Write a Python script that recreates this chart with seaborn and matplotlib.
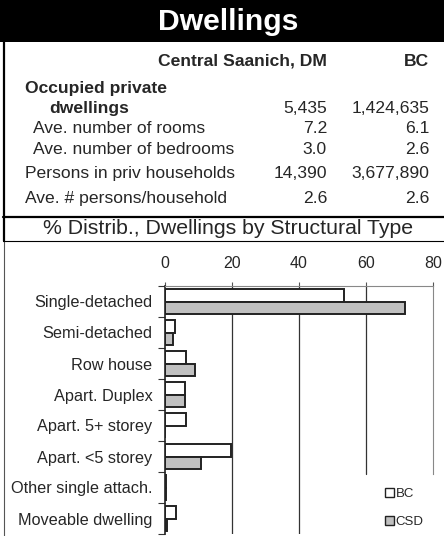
import matplotlib
matplotlib.use("Agg")
import matplotlib.pyplot as plt
from matplotlib.lines import Line2D
from matplotlib.patches import Rectangle
import seaborn as sns
import pandas as pd

# ---- data ----
categories = ["Single-detached", "Semi-detached", "Row house", "Apart. Duplex",
              "Apart. 5+ storey", "Apart. <5 storey", "Other single attach.",
              "Moveable dwelling"]
bc_values = [53.3, 2.9, 6.2, 6.0, 6.3, 19.8, 0.3, 3.2]
csd_values = [71.5, 2.4, 9.0, 6.0, 0.0, 10.7, 0.2, 0.5]
series_names = ["BC", "CSD"]
x_ticks = [0, 20, 40, 60, 80]

table_header = ["Central Saanich, DM", "BC"]
table_rows = [
    ("dwellings", "5,435", "1,424,635"),
    ("Ave. number of rooms", "7.2", "6.1"),
    ("Ave. number of bedrooms", "3.0", "2.6"),
    ("Persons in priv households", "14,390", "3,677,890"),
    ("Ave. # persons/household", "2.6", "2.6"),
]

df = pd.DataFrame({
    "type": categories * 2,
    "value": bc_values + csd_values,
    "series": [series_names[0]] * len(categories) + [series_names[1]] * len(categories),
})

sns.set_theme(style="white")
plt.rcParams["font.family"] = ["Liberation Sans", "DejaVu Sans"]

W, H = 444, 536
fig = plt.figure(figsize=(W / 100, H / 100), dpi=100)

def fx(x):
    return x / W

def fy(y):
    return 1 - y / H

# title band
fig.add_artist(Rectangle((0, fy(42)), 1, 42 / H, transform=fig.transFigure,
                         facecolor="black", edgecolor="none"))
fig.text(fx(228), fy(22), "Dwellings", color="white", fontsize=21.7,
         fontweight="bold", ha="center", va="center")

# borders
fig.add_artist(Line2D([fx(4), fx(4)], [fy(42), fy(241)], color="black", lw=1.6,
                      transform=fig.transFigure))
fig.add_artist(Line2D([fx(3.5), fx(3.5)], [fy(241), fy(536)], color="#555555", lw=0.8,
                      transform=fig.transFigure))
fig.add_artist(Line2D([fx(3), 1], [fy(216.5), fy(216.5)], color="black", lw=1.6,
                      transform=fig.transFigure))
fig.add_artist(Line2D([fx(3), 1], [fy(241), fy(241)], color="black", lw=0.8,
                      transform=fig.transFigure))

# table
fs = 12.6
fig.text(fx(327), fy(66), table_header[0], fontsize=fs, fontweight="bold",
         ha="right", va="baseline")
fig.text(fx(429), fy(66), table_header[1], fontsize=fs, fontweight="bold",
         ha="right", va="baseline")
fig.text(fx(25), fy(93), "Occupied private", fontsize=fs, fontweight="bold",
         ha="left", va="baseline")
row_x = [49, 33, 33, 25, 25]
row_y = [113, 133, 154, 178, 203]
for (label, v1, v2), lx, ly in zip(table_rows, row_x, row_y):
    fig.text(fx(lx), fy(ly), label, fontsize=fs,
             fontweight="bold" if label == "dwellings" else "normal",
             ha="left", va="baseline")
    fig.text(fx(327), fy(ly), v1, fontsize=fs, ha="right", va="baseline")
    fig.text(fx(429), fy(ly), v2, fontsize=fs, ha="right", va="baseline")

fig.text(fx(228), fy(234), "% Distrib., Dwellings by Structural Type",
         fontsize=15.3, ha="center", va="baseline")

# chart
ax_top, ax_bot = 286, 534
ax = fig.add_axes([fx(165), fy(ax_bot), (433 - 165) / W, (ax_bot - ax_top) / H])
sns.barplot(data=df, y="type", x="value", hue="series", orient="h",
            palette={"BC": "white", "CSD": "#c0c0c0"}, width=0.8,
            edgecolor="#222222", linewidth=1.4, saturation=1, ax=ax,
            legend=True)
n = len(categories)
ax.set_xlim(0, 80)
ax.set_ylim(n - 0.5, -0.5)
ax.set_xticks(x_ticks)
ax.xaxis.tick_top()
ax.tick_params(axis="x", which="major", top=True, bottom=False, length=3,
               width=0.8, color="#555555", labelsize=11.5, pad=7.5)
ax.set_xlabel("")
ax.set_ylabel("")
ax.set_yticks(range(n))
ax.set_yticklabels(categories, fontsize=11.7)
ax.tick_params(axis="y", which="major", length=0, pad=9)
ax.set_yticks([i - 0.5 for i in range(n + 1)], minor=True)
ax.tick_params(axis="y", which="minor", left=True, length=5, width=0.8,
               color="#333333")
ax.grid(False)

# legend area (white, without frame) cuts the right-hand gridlines
cut_px = 474
cut_frac = (ax_bot - cut_px) / (ax_bot - ax_top)
cut_data = -0.5 + (cut_px - ax_top) / (ax_bot - ax_top) * n
ax.axvline(20, color="#333333", lw=0.9, zorder=0)
ax.axvline(40, color="#333333", lw=0.9, zorder=0)
ax.axvline(60, ymin=cut_frac, color="#333333", lw=0.9, zorder=0)
ax.spines["left"].set_color("#222222")
ax.spines["left"].set_linewidth(1.2)
ax.spines["top"].set_color("#888888")
ax.spines["top"].set_linewidth(0.8)
ax.spines["right"].set_color("#888888")
ax.spines["right"].set_linewidth(0.8)
ax.spines["right"].set_bounds(-0.5, cut_data)
ax.spines["bottom"].set_visible(False)
ax.set_facecolor("white")

handles, labels = ax.get_legend_handles_labels()
ax.get_legend().remove()
for h in handles:
    h.set_linewidth(1.0)
leg = fig.legend(handles, labels, loc="upper left",
                 bbox_to_anchor=(fx(376), fy(479)), frameon=False,
                 fontsize=9.5, handlelength=0.7, handleheight=0.7,
                 handletextpad=0.1, labelspacing=1.15, borderpad=0.2)

fig.savefig("out.png", dpi=100, facecolor="white")
